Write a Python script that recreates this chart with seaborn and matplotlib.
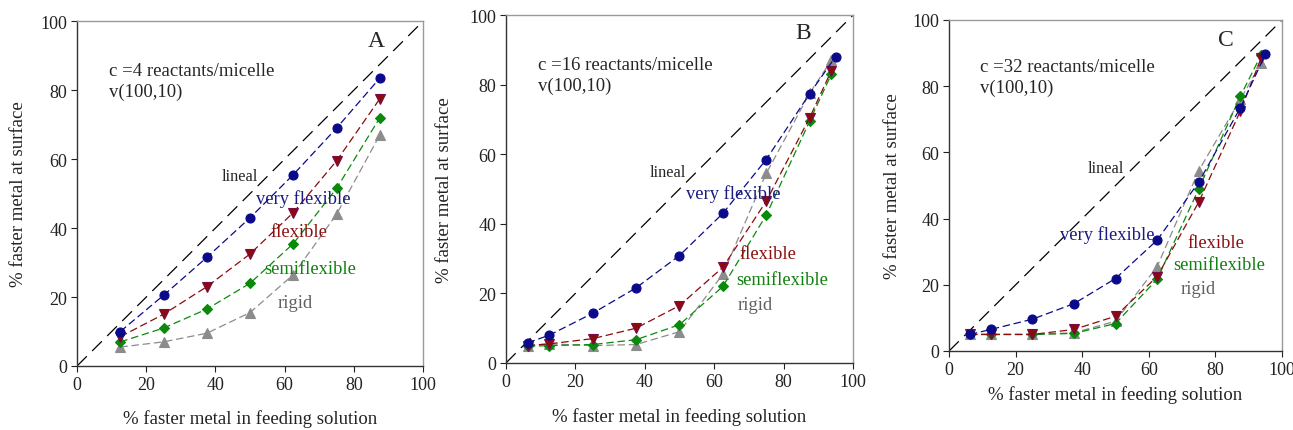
import numpy as np
import pandas as pd
import matplotlib
matplotlib.use('Agg')
import matplotlib.pyplot as plt
import seaborn as sns

sns.set_style('white')
plt.rcParams['font.family'] = ['Liberation Serif', 'DejaVu Serif']

# x positions (feeding solution %)
x_a = [12.5, 25, 37.5, 50, 62.5, 75, 87.5]
x_bc = [6.25, 12.5, 25, 37.5, 50, 62.5, 75, 87.5, 93.75]
x_bc_vf = [6.25, 12.5, 25, 37.5, 50, 62.5, 75, 87.5, 95]

# panel A, c=4
a_very = [10, 20.5, 31.5, 43, 55.5, 69, 83.5]
a_flex = [8.5, 15, 23, 32.5, 44.5, 59.5, 77.5]
a_semi = [7, 11, 16.5, 24, 35.5, 51.5, 72]
a_rigid = [5.5, 7, 9.5, 15.5, 26.5, 44, 67]

# panel B, c=16
b_very = [5.8, 8, 14.3, 21.6, 30.9, 43, 58.5, 77.4, 88.1]
b_flex = [5, 5.5, 7, 10, 16.5, 27.5, 46.5, 70.5, 84]
b_semi = [4.8, 5, 5.3, 6.7, 11, 22, 42.5, 69.5, 83]
b_rigid = [5, 5.5, 5, 5.3, 9, 25.5, 54.5, 77.5, 87]

# panel C, c=32
c_very = [5, 6.5, 9.6, 14.3, 21.9, 33.5, 51, 73.5, 89.6]
c_flex = [5, 5, 5, 6.5, 10.5, 22.5, 45, 72.5, 88.5]
c_semi = [5, 5, 5, 5.3, 8.3, 21.7, 49, 77, 89.5]
c_rigid = [5, 5, 5, 5.5, 9, 25.5, 54.5, 76, 87]

series_names = ['very flexible', 'flexible', 'semiflexible', 'rigid']
colors = {'very flexible': '#0a0a8a', 'flexible': '#8b0a0a',
          'semiflexible': '#0a8a0a', 'rigid': '#8c8c8c'}
edge = {'very flexible': '#0a0a8a', 'flexible': '#7a0a4a',
        'semiflexible': '#0a8a0a', 'rigid': '#8c8c8c'}
text_col = {'very flexible': '#1a1a80', 'flexible': '#8b1010',
            'semiflexible': '#108010', 'rigid': '#606060'}
markers = {'very flexible': 'o', 'flexible': 'v', 'semiflexible': 'D', 'rigid': '^'}
msize = {'very flexible': 6.5, 'flexible': 6.5, 'semiflexible': 5.5, 'rigid': 6.5}

panels = [
    dict(letter='A', c='4', xs=[x_a, x_a, x_a, x_a], ys=[a_very, a_flex, a_semi, a_rigid],
         rect=[0.0596, 0.1485, 0.2676, 0.800], letter_xy=(86.5, 94.3),
         labels={'very flexible': (51.8, 48.8), 'flexible': (56, 39),
                 'semiflexible': (54, 28.3), 'rigid': (58, 18.5)},
         lineal=(41.7, 55.2), ylab_x=-0.145, xlab_y=-0.125),
    dict(letter='B', c='16', xs=[x_bc_vf, x_bc, x_bc, x_bc], ys=[b_very, b_flex, b_semi, b_rigid],
         rect=[0.3913, 0.1555, 0.2684, 0.807], letter_xy=(85.7, 95.1),
         labels={'very flexible': (51.9, 48.9), 'flexible': (67.2, 31.6),
                 'semiflexible': (66.5, 23.9), 'rigid': (66.7, 16.7)},
         lineal=(41.5, 55.0), ylab_x=-0.153, xlab_y=-0.127),
    dict(letter='C', c='32', xs=[x_bc_vf, x_bc, x_bc, x_bc], ys=[c_very, c_flex, c_semi, c_rigid],
         rect=[0.734, 0.1833, 0.2575, 0.768], letter_xy=(83, 94),
         labels={'very flexible': (33.3, 35.4), 'flexible': (71.5, 32.7),
                 'semiflexible': (67.4, 26.0), 'rigid': (69.5, 18.9)},
         lineal=(41.6, 55.2), ylab_x=-0.144, xlab_y=-0.103),
]

fig = plt.figure(figsize=(12.93, 4.31), dpi=100)

for p in panels:
    ax = fig.add_axes(p['rect'])
    # lineal reference
    ax.plot([0, 100], [0, 100], color='black', lw=0.9, dashes=(11, 6))
    # draw the rigid series first so the others sit on top
    for name, xs, ys in reversed(list(zip(series_names, p['xs'], p['ys']))):
        df = pd.DataFrame({'x': xs, 'y': ys})
        sns.lineplot(data=df, x='x', y='y', ax=ax, color=colors[name], lw=0.9,
                     marker=markers[name], markersize=msize[name],
                     markerfacecolor=colors[name], markeredgecolor=edge[name],
                     markeredgewidth=0.8, dashes=(6, 3), sort=False)
    for name, (tx, ty) in p['labels'].items():
        ax.text(tx, ty, name, color=text_col[name], fontsize=13.3, va='center', ha='left')
    ax.text(p['lineal'][0], p['lineal'][1], 'lineal', fontsize=11.8, va='center', ha='left')
    ax.text(p['letter_xy'][0], p['letter_xy'][1], p['letter'], fontsize=17,
            va='center', ha='center')
    ax.text(9.3, 85.8, 'c =' + p['c'] + ' reactants/micelle', fontsize=13.5, va='center', ha='left')
    ax.text(9.3, 79.7, 'v(100,10)', fontsize=13.5, va='center', ha='left')

    ax.set_xlim(0, 100)
    ax.set_ylim(0, 100)
    ax.set_xticks(range(0, 101, 20))
    ax.set_yticks(range(0, 101, 20))
    ax.tick_params(direction='out', length=4, width=0.8, labelsize=13,
                   bottom=True, left=True, colors='#222222', pad=3)
    for side in ['left', 'bottom']:
        ax.spines[side].set_color('#333333')
        ax.spines[side].set_linewidth(1.0)
    for side in ['top', 'right']:
        ax.spines[side].set_color('#999999')
        ax.spines[side].set_linewidth(1.0)
    ax.set_xlabel('% faster metal in feeding solution', fontsize=13.5, color='#222222')
    ax.set_ylabel('% faster metal at surface', fontsize=13.5, color='#222222')
    ax.xaxis.set_label_coords(0.5, p['xlab_y'])
    ax.yaxis.set_label_coords(p['ylab_x'], 0.5)

fig.savefig('out.png', dpi=100)
